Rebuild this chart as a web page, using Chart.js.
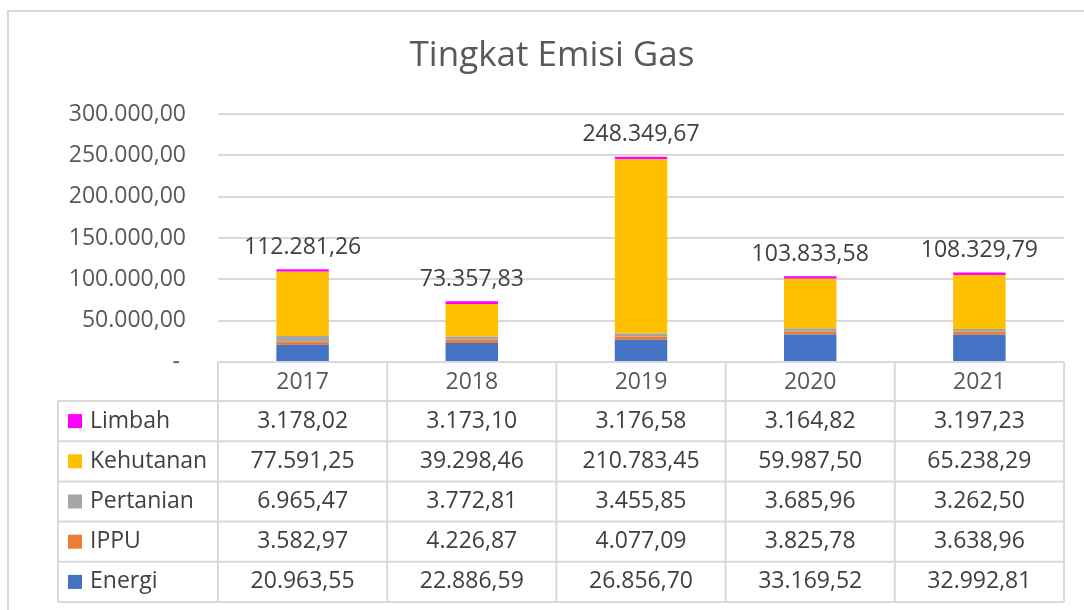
<!DOCTYPE html>
<html>
<head>
<meta charset="utf-8">
<script src="https://cdn.jsdelivr.net/npm/chart.js@4/dist/chart.umd.min.js"></script>
<style>
  body { margin: 0; background: #fff; }
</style>
</head>
<body>
<canvas id="chart" width="1084" height="610"></canvas>
<script>
// data tabel emisi per sektor
var years = ['2017', '2018', '2019', '2020', '2021'];
var energi = [20963.55, 22886.59, 26856.70, 33169.52, 32992.81];
var ippu = [3582.97, 4226.87, 4077.09, 3825.78, 3638.96];
var pertanian = [6965.47, 3772.81, 3455.85, 3685.96, 3262.50];
var kehutanan = [77591.25, 39298.46, 210783.45, 59987.50, 65238.29];
var limbah = [3178.02, 3173.10, 3176.58, 3164.82, 3197.23];
var yTicks = [0, 50000, 100000, 150000, 200000, 250000, 300000];

var FONT = "'Open Sans', sans-serif";

function formatNum(v) {
    if (v === 0) return '- ';
    let parts = v.toFixed(2).split('.');
    let intPart = parts[0].replace(/\B(?=(\d{3})+(?!\d))/g, '.');
    return intPart + ',' + parts[1];
}

var series = [
    { label: 'Energi', data: energi, color: '#4472C4' },
    { label: 'IPPU', data: ippu, color: '#ED7D31' },
    { label: 'Pertanian', data: pertanian, color: '#A5A5A5' },
    { label: 'Kehutanan', data: kehutanan, color: '#FFC000' },
    { label: 'Limbah', data: limbah, color: '#FF00FF' }
];

// total per tahun untuk label di atas batang
var totals = years.map(function(y, i) {
    let sum = 0;
    series.forEach(function(s) { sum += s.data[i]; });
    return sum;
});

var frameAndTable = {
    id: 'frameAndTable',
    beforeDraw: function(chart) {
        const ctx = chart.ctx;
        ctx.save();
        ctx.strokeStyle = '#d9d9d9';
        ctx.lineWidth = 2;
        ctx.strokeRect(8, 11, 1200, 800);
        ctx.restore();
    },
    afterDraw: function(chart) {
        const ctx = chart.ctx;
        const area = chart.chartArea;
        const x = chart.scales.x;
        const y = chart.scales.y;
        const colW = area.width / years.length;
        const top = area.bottom;
        const headH = 39;
        const rowH = 40.2;
        const tableLeft = 58;
        const rows = series.slice().reverse();
        const bottom = top + headH + rowH * rows.length;

        ctx.save();
        // total di atas batang
        ctx.fillStyle = '#404040';
        ctx.font = '23px ' + FONT;
        ctx.textAlign = 'center';
        ctx.textBaseline = 'middle';
        totals.forEach(function(t, i) {
            ctx.fillText(formatNum(t), x.getPixelForValue(i), y.getPixelForValue(t) - 22);
        });

        // garis tabel
        ctx.strokeStyle = '#d9d9d9';
        ctx.lineWidth = 2;
        ctx.beginPath();
        ctx.moveTo(area.left, top);
        ctx.lineTo(area.right, top);
        for (let r = 0; r <= rows.length; r++) {
            let yy = top + headH + r * rowH;
            ctx.moveTo(tableLeft, yy);
            ctx.lineTo(area.right, yy);
        }
        for (let c = 0; c <= years.length; c++) {
            let xx = area.left + c * colW;
            ctx.moveTo(xx, top);
            ctx.lineTo(xx, bottom);
        }
        ctx.moveTo(tableLeft, top + headH);
        ctx.lineTo(tableLeft, bottom);
        ctx.stroke();

        // header tahun
        ctx.fillStyle = '#595959';
        ctx.font = '23px ' + FONT;
        years.forEach(function(yr, i) {
            ctx.fillText(yr, x.getPixelForValue(i), top + headH / 2 + 1);
        });

        // baris data
        rows.forEach(function(s, r) {
            let cy = top + headH + r * rowH + rowH / 2;
            ctx.fillStyle = s.color;
            ctx.fillRect(68, cy - 7, 14, 14);
            ctx.fillStyle = '#404040';
            ctx.textAlign = 'left';
            ctx.fillText(s.label, 90, cy);
            ctx.textAlign = 'center';
            s.data.forEach(function(v, i) {
                ctx.fillText(formatNum(v), x.getPixelForValue(i), cy);
            });
        });
        ctx.restore();
    }
};

new Chart(document.getElementById('chart').getContext('2d'), {
    type: 'bar',
    data: {
        labels: years,
        datasets: series.map(function(s) {
            return {
                label: s.label,
                data: s.data,
                backgroundColor: s.color,
                borderWidth: 0,
                categoryPercentage: 1,
                barPercentage: 0.31
            };
        })
    },
    options: {
        responsive: false,
        animation: false,
        layout: {
            padding: { left: 40, right: 20, bottom: 248, top: 0 }
        },
        plugins: {
            legend: { display: false },
            tooltip: { enabled: false },
            title: {
                display: true,
                text: 'Tingkat Emisi Gas',
                color: '#595959',
                font: { family: FONT, size: 35, weight: 'normal' },
                padding: { top: 35, bottom: 37 }
            }
        },
        scales: {
            x: {
                stacked: true,
                display: false
            },
            y: {
                stacked: true,
                min: 0,
                max: 300000,
                afterFit: function(scale) { scale.width = 178; },
                afterBuildTicks: function(scale) {
                    scale.ticks = yTicks.map(function(v) { return { value: v }; });
                },
                border: { display: false },
                grid: { color: '#d9d9d9', lineWidth: 2, drawTicks: false },
                ticks: {
                    padding: 32,
                    color: '#595959',
                    font: { family: FONT, size: 23 },
                    callback: function(v) { return formatNum(v); }
                }
            }
        }
    },
    plugins: [frameAndTable]
});
</script>
</body>
</html>
